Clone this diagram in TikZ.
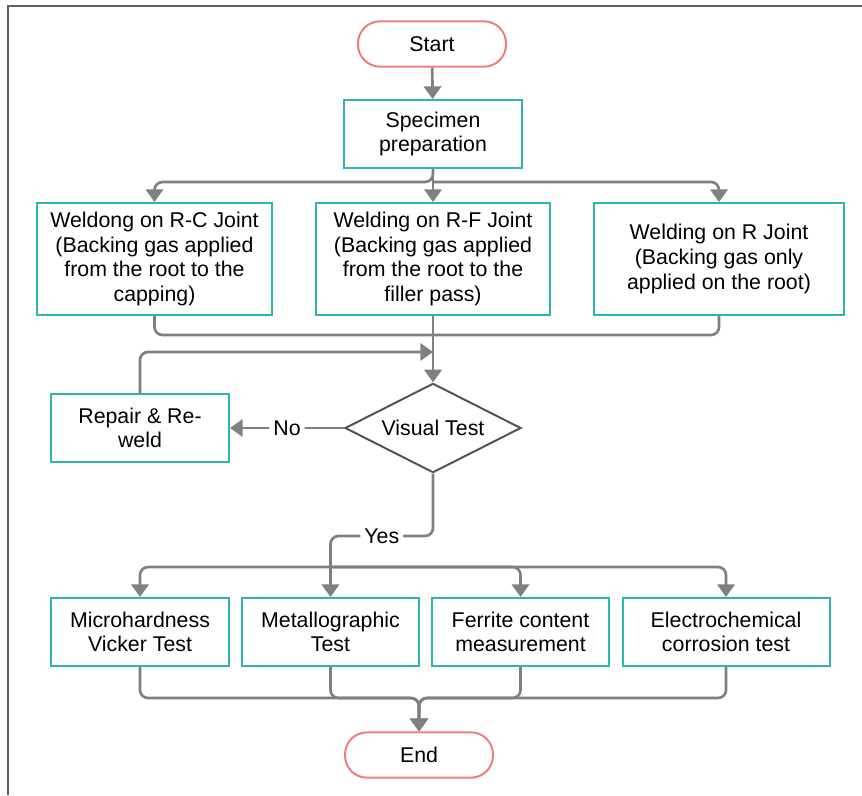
\documentclass[tikz,border=0pt]{standalone}
\usepackage{fontspec}
\setmainfont{Liberation Sans}
\usetikzlibrary{shapes.geometric,arrows.meta}
\definecolor{teal1}{HTML}{2DB5B2}
\definecolor{pink1}{HTML}{F07C7C}
\definecolor{conn}{HTML}{808080}
\definecolor{dgray}{HTML}{555555}
\definecolor{frm}{HTML}{606060}
\begin{document}
\begin{tikzpicture}[x=0.75pt,y=-0.75pt,
  every node/.style={font=\fontsize{16}{18.5}\selectfont, text=black},
  term/.style={draw=pink1, line width=1.5pt, rounded corners=16.5pt, minimum width=111pt, minimum height=34pt, inner sep=0pt},
  proc/.style={draw=teal1, line width=1.5pt, align=center, inner sep=0pt, fill=white},
  dec/.style={diamond, aspect=2, draw=dgray, line width=1.5pt, minimum width=132pt, minimum height=67pt, inner sep=0pt},
  line/.style={draw=conn, line width=2pt, rounded corners=6pt},
  arr/.style={line, -{Triangle[width=13pt,length=9.5pt]}},
  lbl/.style={fill=white, inner sep=3pt}]
\useasboundingbox (0,0) rectangle (862,795);
\draw[frm, line width=1.5pt] (8,795) -- (8,6) -- (862,6);

\node[term] (start) at (432,44) {Start};
\node[proc, minimum width=133.5pt, minimum height=51pt] (spec) at (433,134) {Specimen\\preparation};

\node[proc, minimum width=176pt, minimum height=84pt] (w1) at (154.5,259) {Weldong on R-C Joint\\(Backing gas applied\\from the root to the\\capping)};
\node[proc, minimum width=176pt, minimum height=84pt] (w2) at (433,259) {Welding on R-F Joint\\(Backing gas applied\\from the root to the\\filler pass)};
\node[proc, minimum width=188pt, minimum height=84pt] (w3) at (719,259) {Welding on R Joint\\(Backing gas only\\applied on the root)};

\node[dec] (vt) at (433,428) {Visual Test};
\node[proc, minimum width=133.5pt, minimum height=51pt] (rep) at (140,428) {Repair \& Re-\\weld};

\node[proc, minimum width=133pt, minimum height=51pt] (t1) at (140,632) {Microhardness\\Vicker Test};
\node[proc, minimum width=132.75pt, minimum height=51pt] (t2) at (330.5,632) {Metallographic\\Test};
\node[proc, minimum width=132.75pt, minimum height=51pt] (t3) at (520.5,632) {Ferrite content\\measurement};
\node[proc, minimum width=155.25pt, minimum height=51pt] (t4) at (726,632) {Electrochemical\\corrosion test};

\node[term] (end) at (419,755) {End};

\coordinate (br) at (433,182);
\coordinate (mg) at (433,335);
\coordinate (lp) at (433,352);
\coordinate (y1) at (433,536);
\coordinate (y2) at (330.5,536);
\coordinate (bb) at (330.5,567);
\coordinate (em) at (419,698);

\draw[arr] (start) -- (spec);
\draw[arr] (spec.south) -- (br) -| (w1.north);
\draw[arr] (br) -| (w3.north);
\draw[arr] (spec) -- (w2);

\draw[line] (w1.south) |- (mg);
\draw[line] (w3.south) |- (mg);
\draw[arr] (w2) -- (vt);
\draw[arr] (rep.north) |- (lp);

\draw[arr] (vt.west) -- node[lbl]{No} (rep.east);
\draw[arr] (vt.south) -- (y1) -- node[lbl]{Yes} (y2) -- (t2.north);
\draw[arr] (bb) -| (t1.north);
\draw[arr] (bb) -| (t3.north);
\draw[arr] (bb) -| (t4.north);

\draw[arr] (t1.south) |- (em) -- (end.north);
\draw[arr] (t2.south) |- (em) -- (end.north);
\draw[arr] (t3.south) |- (em) -- (end.north);
\draw[arr] (t4.south) |- (em) -- (end.north);
\end{tikzpicture}
\end{document}
